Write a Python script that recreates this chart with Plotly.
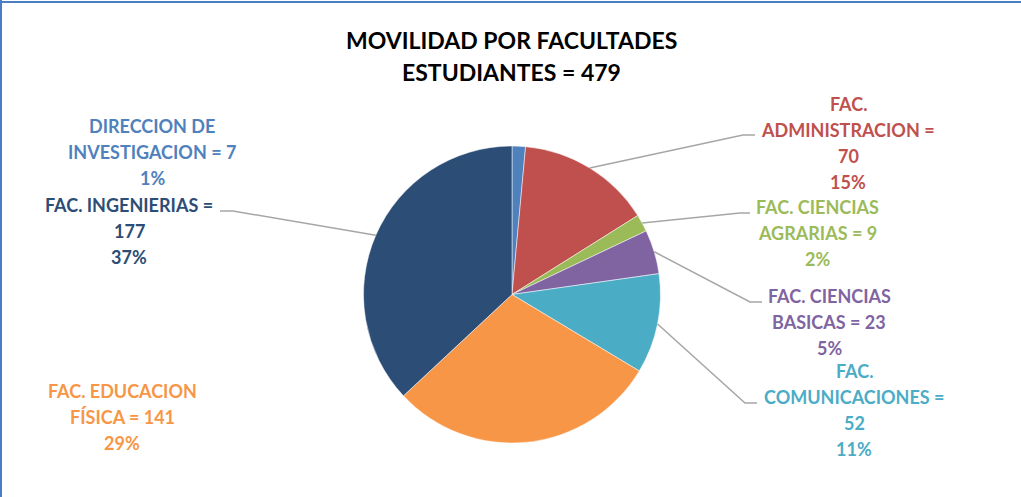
import math
import plotly.graph_objects as go

# data
labels = ["DIRECCION DE INVESTIGACION", "FAC. ADMINISTRACION", "FAC. CIENCIAS AGRARIAS",
          "FAC. CIENCIAS BASICAS", "FAC. COMUNICACIONES", "FAC. EDUCACION FÍSICA",
          "FAC. INGENIERIAS"]
values = [7, 70, 9, 23, 52, 141, 177]
colors = ["#4F81BD", "#C0504D", "#9BBB59", "#8064A2", "#4BACC6", "#F79646", "#2C4D75"]
label_lines = [
    ["DIRECCION DE", "INVESTIGACION = 7", "1%"],
    ["FAC.", "ADMINISTRACION =", "70", "15%"],
    ["FAC. CIENCIAS", "AGRARIAS = 9", "2%"],
    ["FAC. CIENCIAS", "BASICAS = 23", "5%"],
    ["FAC.", "COMUNICACIONES =", "52", "11%"],
    ["FAC. EDUCACION", "FÍSICA = 141", "29%"],
    ["FAC. INGENIERIAS =", "177", "37%"],
]
title_lines = ["MOVILIDAD POR FACULTADES", "ESTUDIANTES = 479"]

W, H = 1021, 497
CX, CY, R = 512, 294.5, 148.5  # pie centre / radius in pixels

# label block centres (pixels) and leader elbows (None = no leader line)
label_pos = [(152, 152), (848, 143), (817, 233), (829, 322), (854, 410), (122, 417), (129, 231)]
elbows = [None, ((743, 135), (755, 135)), ((740, 213), (750, 213)), ((750, 302), (762, 302)),
          ((745, 403), (757, 403)), None, ((233, 211), (220, 211))]
LINE_H = 25.7


def px(x):
    return x / W


def py(y):
    return 1 - y / H


def text_block(cx, cy, lines, color, size, step):
    out = []
    n = len(lines)
    for k, line in enumerate(lines):
        out.append(dict(
            x=px(cx), y=py(cy + (k - (n - 1) / 2) * step), xref="paper", yref="paper",
            xanchor="center", yanchor="middle", showarrow=False,
            text="<b>" + line + "</b>",
            font=dict(family="Lato", size=size, color=color),
        ))
    return out


fig = go.Figure(go.Pie(
    labels=labels, values=values, sort=False, direction="clockwise", rotation=0,
    marker=dict(colors=colors, line=dict(color="white", width=0.5)),
    textinfo="none", hoverinfo="label+value+percent",
    domain=dict(x=[px(CX - R), px(CX + R)], y=[py(CY + R), py(CY - R)]),
))

shapes = []
annotations = []
total = sum(values)
cum = 0
for i, v in enumerate(values):
    mid = (cum + v / 2) / total * 2 * math.pi
    cum += v
    lx, ly = label_pos[i]
    annotations += text_block(lx, ly, label_lines[i], colors[i], 18, LINE_H)
    if elbows[i]:
        ax, ay = CX + R * math.sin(mid), CY - R * math.cos(mid)
        (ex, ey), (tx, ty) = elbows[i]
        shapes.append(dict(
            type="path", xref="paper", yref="paper",
            path=f"M {px(ax)},{py(ay)} L {px(ex)},{py(ey)} L {px(tx)},{py(ty)}",
            line=dict(color="#A6A6A6", width=1.5),
        ))

# frame lines (top and left)
shapes.append(dict(type="line", xref="paper", yref="paper", x0=0, x1=1, y0=py(2), y1=py(2),
                   line=dict(color="#4A7EC4", width=2)))
shapes.append(dict(type="line", xref="paper", yref="paper", x0=px(1), x1=px(1), y0=0, y1=1,
                   line=dict(color="#4A7EC4", width=2)))

annotations += text_block(511, 56, title_lines, "#000000", 23, 32)

fig.update_layout(
    width=W, height=H, margin=dict(l=0, r=0, t=0, b=0),
    paper_bgcolor="white", plot_bgcolor="white", showlegend=False,
    shapes=shapes, annotations=annotations,
)
fig.write_html("out.html", config={"displayModeBar": False},
               post_script="document.body.style.margin='0';document.body.style.overflow='hidden';")
